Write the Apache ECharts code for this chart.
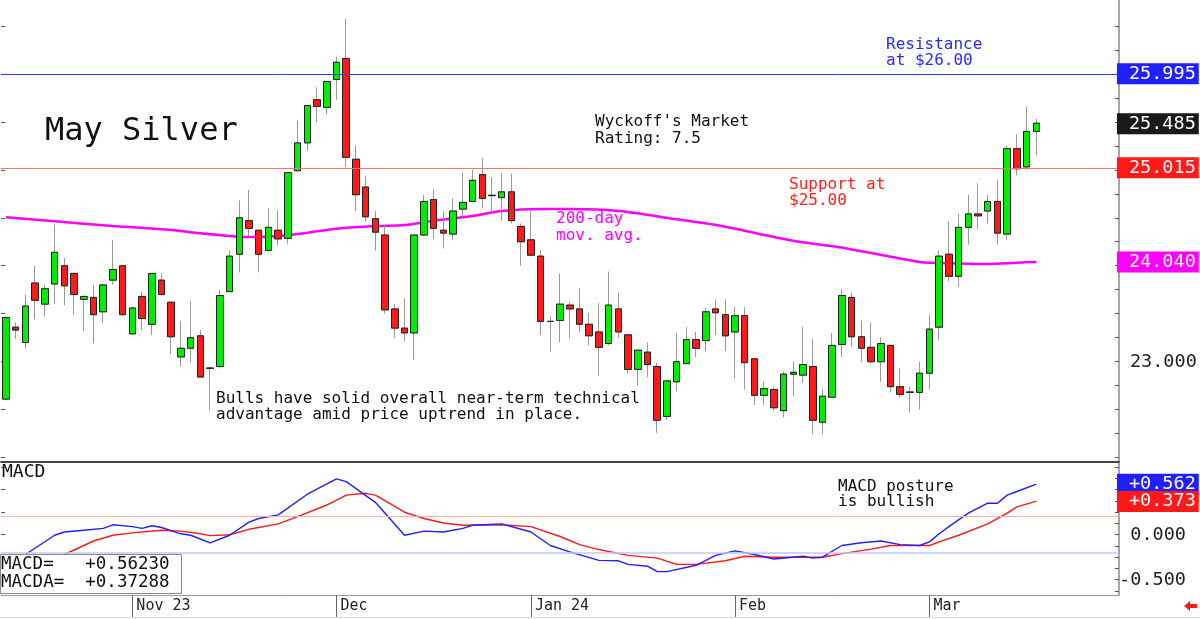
<!DOCTYPE html>
<html>
<head>
<meta charset="utf-8">
<style>
  html, body { margin: 0; padding: 0; background: #fff; }
  #chart { width: 1200px; height: 619px; }
</style>
<script src="https://cdn.jsdelivr.net/npm/echarts@6/dist/echarts.min.js"></script>
</head>
<body>
<div id="chart"></div>
<script>
// trading days, Oct 13 2023 .. Mar 18 2024
const dates = [
  '2023-10-13','2023-10-16','2023-10-17','2023-10-18','2023-10-19','2023-10-20','2023-10-23','2023-10-24','2023-10-25','2023-10-26','2023-10-27','2023-10-30','2023-10-31',
  '2023-11-01','2023-11-02','2023-11-03','2023-11-06','2023-11-07','2023-11-08','2023-11-09','2023-11-10','2023-11-13','2023-11-14','2023-11-15','2023-11-16','2023-11-17','2023-11-20','2023-11-21','2023-11-22','2023-11-24','2023-11-27','2023-11-28','2023-11-29','2023-11-30',
  '2023-12-01','2023-12-04','2023-12-05','2023-12-06','2023-12-07','2023-12-08','2023-12-11','2023-12-12','2023-12-13','2023-12-14','2023-12-15','2023-12-18','2023-12-19','2023-12-20','2023-12-21','2023-12-22','2023-12-26','2023-12-27','2023-12-28','2023-12-29',
  '2024-01-02','2024-01-03','2024-01-04','2024-01-05','2024-01-08','2024-01-09','2024-01-10','2024-01-11','2024-01-12','2024-01-16','2024-01-17','2024-01-18','2024-01-19','2024-01-22','2024-01-23','2024-01-24','2024-01-25','2024-01-26','2024-01-29','2024-01-30','2024-01-31',
  '2024-02-01','2024-02-02','2024-02-05','2024-02-06','2024-02-07','2024-02-08','2024-02-09','2024-02-12','2024-02-13','2024-02-14','2024-02-15','2024-02-16','2024-02-20','2024-02-21','2024-02-22','2024-02-23','2024-02-26','2024-02-27','2024-02-28','2024-02-29',
  '2024-03-01','2024-03-04','2024-03-05','2024-03-06','2024-03-07','2024-03-08','2024-03-11','2024-03-12','2024-03-13','2024-03-14','2024-03-15','2024-03-18'
];

const opens = [
  22.61,23.36,23.20,23.82,23.60,23.81,24.00,23.92,23.65,23.67,23.52,23.85,24.00,
  23.29,23.68,23.39,23.85,23.62,23.05,23.14,23.27,22.93,22.95,23.73,24.12,24.47,24.37,24.16,24.37,24.285,24.99,25.28,25.73,25.65,
  25.94,26.16,25.11,24.82,24.49,24.32,23.55,23.35,23.30,24.32,24.69,24.37,24.33,24.59,24.67,24.95,24.73,24.71,24.77,24.41,
  24.27,24.10,23.42,23.43,23.59,23.55,23.39,23.31,23.19,23.55,23.28,22.92,23.10,22.95,22.43,22.79,22.98,23.23,23.22,23.55,23.49,
  23.31,23.48,23.03,22.65,22.71,22.49,22.87,22.86,22.95,22.37,22.63,23.18,23.67,23.26,23.15,23.00,23.17,22.74,22.68,22.68,
  22.88,23.36,24.12,23.89,24.40,24.54,24.57,24.67,24.33,25.22,25.03,25.40
];
const highs = [
  23.47,23.41,23.70,24.00,23.80,24.43,24.08,23.93,23.69,23.80,23.81,24.27,24.01,
  23.57,23.73,23.92,23.92,23.62,23.42,23.63,23.33,22.95,23.75,24.16,24.68,24.79,24.37,24.60,24.58,24.97,25.51,25.67,25.86,25.92,
  26.18,26.57,25.25,24.94,24.57,24.42,23.60,23.66,24.32,24.74,24.80,24.57,24.70,24.97,25.00,25.12,24.92,24.96,24.96,24.44,
  24.57,24.16,23.47,23.92,23.62,23.77,23.51,23.61,23.94,23.72,23.28,23.12,23.20,22.99,22.80,23.30,23.36,23.31,23.56,23.65,23.65,
  23.57,23.57,23.03,22.79,22.74,22.90,23.00,23.36,23.24,22.72,23.30,23.76,23.72,23.43,23.41,23.25,23.17,22.93,22.74,23.00,
  23.49,24.16,24.46,24.54,24.74,24.86,24.74,24.89,25.25,25.37,25.66,25.53
];
const lows = [
  22.60,23.24,23.14,23.44,23.47,23.60,23.59,23.49,23.32,23.19,23.40,23.80,23.48,
  23.28,23.33,23.28,23.69,23.08,22.95,22.99,22.84,22.50,22.93,23.73,23.93,24.31,23.93,24.16,24.21,24.23,24.99,25.20,25.50,25.58,
  25.73,25.03,24.57,24.46,24.16,23.50,23.25,23.21,23.02,24.31,24.28,24.18,24.27,24.51,24.67,24.60,24.56,24.47,24.44,24.00,
  24.10,23.28,23.10,23.20,23.25,23.31,23.17,22.85,23.17,23.25,22.88,22.75,22.84,22.26,22.39,22.69,22.98,23.05,23.11,23.28,23.11,
  22.83,22.71,22.55,22.55,22.49,22.42,22.64,22.78,22.25,22.25,22.63,23.05,23.16,23.00,22.98,22.79,22.68,22.63,22.47,22.50,
  22.71,23.23,23.84,23.78,24.22,24.38,24.44,24.22,24.27,24.94,25.00,25.15
];
const closes = [
  23.46,23.33,23.58,23.64,23.76,24.14,23.79,23.70,23.68,23.49,23.80,23.96,23.49,
  23.56,23.45,23.92,23.70,23.26,23.14,23.25,22.84,22.935,23.69,24.10,24.50,24.39,24.12,24.40,24.28,24.97,25.28,25.67,25.66,25.92,
  26.12,25.13,24.74,24.51,24.35,23.54,23.35,23.30,24.32,24.67,24.39,24.34,24.57,24.66,24.89,24.70,24.735,24.77,24.47,24.25,
  24.11,23.42,23.42,23.60,23.55,23.39,23.27,23.15,23.59,23.31,22.92,23.12,22.97,22.39,22.80,23.00,23.23,23.14,23.52,23.51,23.27,
  23.48,22.99,22.65,22.72,22.52,22.87,22.89,22.97,22.39,22.64,23.17,23.69,23.26,23.14,23.00,23.19,22.74,22.66,22.685,22.88,
  23.34,24.10,23.89,24.40,24.54,24.52,24.67,24.34,25.22,25.01,25.40,25.485
];

// 200-day moving average, read at these bar indices
const maIdx = [0,5,11,17,20,23,25,28,31,34,38,41,44,48,51,55,58,63,69,74,79,82,86,87,91,94,97,101,104,106];
const maVals = [24.505,24.463,24.415,24.372,24.338,24.31,24.30,24.31,24.344,24.386,24.414,24.424,24.47,24.518,24.57,24.59,24.59,24.57,24.484,24.407,24.30,24.244,24.19,24.17,24.094,24.04,24.025,24.018,24.032,24.04];

// MACD (blue) and MACDA signal (red)
const macdIdx = [0,2,5,6,8,10,11,13,14,15,16,18,19,21,23,25,26,28,31,34,35,38,41,43,45,47,48,51,54,56,58,61,63,64,66,67,68,71,73,75,77,79,82,83,84,86,88,90,92,94,95,96,97,99,101,102,103,104,106];
const macdVals = [-0.41,-0.22,-0.006,0.03,0.05,0.07,0.11,0.09,0.07,0.10,0.08,0.01,-0.006,-0.09,-0.006,0.14,0.18,0.22,0.45,0.62,0.59,0.36,-0.006,0.04,0.03,0.07,0.105,0.12,0.03,-0.12,-0.19,-0.285,-0.29,-0.33,-0.35,-0.41,-0.41,-0.34,-0.23,-0.18,-0.22,-0.27,-0.24,-0.26,-0.25,-0.12,-0.09,-0.07,-0.11,-0.12,-0.08,0.01,0.09,0.24,0.35,0.35,0.44,0.48,0.5623];
const signalIdx = [0,6,8,9,11,13,16,18,20,21,23,25,28,30,33,35,37,38,41,43,45,47,51,54,57,59,61,64,67,69,71,74,76,79,82,84,86,89,91,95,96,98,101,103,104,106];
const signalVals = [-0.51,-0.22,-0.12,-0.07,-0.006,0.02,0.05,0.04,0.01,-0.01,0.00,0.06,0.12,0.20,0.33,0.44,0.46,0.44,0.25,0.18,0.13,0.105,0.11,0.09,-0.02,-0.11,-0.165,-0.23,-0.26,-0.33,-0.33,-0.29,-0.24,-0.25,-0.25,-0.25,-0.21,-0.16,-0.12,-0.12,-0.08,-0.006,0.12,0.24,0.31,0.37288];

const monthLabels = { '2023-11-01': 'Nov 23', '2023-12-01': 'Dec', '2024-01-02': 'Jan 24', '2024-02-01': 'Feb', '2024-03-01': 'Mar' };
const resistance = 25.995;
const support = 25.015;
const macdLevels = [0.2, -0.2];

const priceTicks = [22,22.25,22.5,22.75,23,23.25,23.5,23.75,24,24.25,24.5,24.75,25,25.25,25.5,25.75,26,26.25,26.5];
const priceTicksLeft = [22,22.5,23,23.5,24,24.5,25,25.5,26,26.5];
const priceLabels = [23];
const macdTicks = [-0.625,-0.5,-0.375,-0.25,-0.125,0,0.125,0.25,0.375,0.5,0.625,0.75];
const macdTicksLeft = [-0.5,-0.25,0,0.25,0.5,0.75];
const macdLabels = [0, -0.5];

const MONO = '"DejaVu Sans Mono", monospace';
const padCount = 8;
const xData = dates.concat(Array.from({ length: padCount }, (_, i) => 'pad' + i));
const last = dates.length - 1;

const candleData = dates.map((d, i) => [opens[i], closes[i], lows[i], highs[i]]);
const bodyData = dates.map((d, i) => [opens[i], closes[i], Math.min(opens[i], closes[i]), Math.max(opens[i], closes[i])]);
const maData = maIdx.map((x, i) => [x, maVals[i]]);
const macdData = macdIdx.map((x, i) => [x, macdVals[i]]);
const signalData = signalIdx.map((x, i) => [x, signalVals[i]]);

function tagLine(value, bg, text, lineColor) {
  return {
    yAxis: value,
    lineStyle: lineColor ? { color: lineColor, width: 1, type: 'solid' } : { width: 0, color: 'rgba(0,0,0,0)' },
    label: {
      show: true, position: 'end', distance: -2, formatter: text,
      backgroundColor: bg, color: '#fff', fontSize: 18.5, fontFamily: MONO,
      padding: [2, 3, 0, 12]
    }
  };
}

function txt(x, y, text, color, size) {
  return {
    type: 'text', x: x, y: y, z: 100,
    style: { text: text, fill: color || '#111', font: (size || 16) + 'px ' + MONO, textVerticalAlign: 'middle' }
  };
}

const isMonth = (i, v) => monthLabels[v] !== undefined;

const chart = echarts.init(document.getElementById('chart'));
chart.setOption({
  animation: false,
  backgroundColor: '#fff',
  grid: [
    { left: 1.14, top: 0, width: 1117.8, height: 462 },
    { left: 1.14, top: 462, width: 1117.8, height: 133 }
  ],
  xAxis: [
    {
      type: 'category', gridIndex: 0, data: xData, boundaryGap: true,
      axisLine: { show: true, onZero: false, lineStyle: { color: '#444', width: 2 } },
      axisTick: { show: false }, axisLabel: { show: false }, splitLine: { show: false }
    },
    {
      type: 'category', gridIndex: 1, data: xData, boundaryGap: true,
      axisLine: { show: true, onZero: false, lineStyle: { color: '#999', width: 1 } },
      axisTick: { show: true, interval: isMonth, alignWithLabel: true, length: 22, lineStyle: { color: '#666' } },
      axisLabel: {
        interval: isMonth, formatter: v => monthLabels[v] || '',
        align: 'left', padding: [0, 0, 0, 4], margin: 4,
        fontSize: 15, fontFamily: MONO, color: '#222'
      },
      splitLine: { show: false }
    }
  ],
  yAxis: [
    {
      type: 'value', gridIndex: 0, position: 'right', min: 21.955, max: 26.769, scale: true,
      axisLine: { show: true, lineStyle: { color: '#888', width: 1.5 } },
      axisTick: { show: true, inside: true, length: 4, customValues: priceTicks, lineStyle: { color: '#555' } },
      axisLabel: { customValues: priceLabels, formatter: v => v.toFixed(3), margin: 11, fontSize: 18.5, fontFamily: MONO, color: '#222' },
      splitLine: { show: false }
    },
    {
      type: 'value', gridIndex: 0, position: 'left', min: 21.955, max: 26.769, scale: true,
      axisLine: { show: false },
      axisTick: { show: true, inside: true, length: 4, customValues: priceTicksLeft, lineStyle: { color: '#555' } },
      axisLabel: { show: false }, splitLine: { show: false }
    },
    {
      type: 'value', gridIndex: 1, position: 'right', min: -0.67, max: 0.808,
      axisLine: { show: true, lineStyle: { color: '#888', width: 1.5 } },
      axisTick: { show: true, inside: true, length: 4, customValues: macdTicks, lineStyle: { color: '#555' } },
      axisLabel: { customValues: macdLabels, formatter: v => v.toFixed(3), align: 'right', margin: 67, fontSize: 18.5, fontFamily: MONO, color: '#222' },
      splitLine: { show: false }
    },
    {
      type: 'value', gridIndex: 1, position: 'left', min: -0.67, max: 0.808,
      axisLine: { show: false },
      axisTick: { show: true, inside: true, length: 4, customValues: macdTicksLeft, lineStyle: { color: '#555' } },
      axisLabel: { show: false }, splitLine: { show: false }
    }
  ],
  series: [
    {
      name: '200-day', type: 'line', xAxisIndex: 0, yAxisIndex: 0, data: maData,
      showSymbol: false, smooth: 0.3, lineStyle: { color: '#ff00ff', width: 2.5 }, z: 1,
      markLine: {
        silent: true, symbol: ['none', 'none'],
        data: [tagLine(maVals[maVals.length - 1], '#ff00ff', maVals[maVals.length - 1].toFixed(3))]
      }
    },
    {
      name: 'wicks', type: 'candlestick', xAxisIndex: 0, yAxisIndex: 0, data: candleData, barWidth: 7, z: 2,
      itemStyle: { color: '#00ee00', color0: '#ff1a1a', borderColor: '#999', borderColor0: '#999', borderWidth: 1 }
    },
    {
      name: 'bodies', type: 'candlestick', xAxisIndex: 0, yAxisIndex: 0, data: bodyData, barWidth: 7, z: 3,
      itemStyle: { color: '#00ee00', color0: '#ff1a1a', borderColor: '#222', borderColor0: '#222', borderWidth: 1 },
      markLine: {
        silent: true, symbol: ['none', 'none'],
        data: [
          tagLine(resistance, '#2020ff', resistance.toFixed(3), '#3a3aff'),
          tagLine(support, '#ff1a1a', support.toFixed(3), '#ff7070'),
          tagLine(closes[last], '#1a1a1a', closes[last].toFixed(3))
        ]
      }
    },
    {
      name: 'MACD', type: 'line', xAxisIndex: 1, yAxisIndex: 2, data: macdData,
      showSymbol: false, lineStyle: { color: '#2020ff', width: 1.4 }, z: 3,
      markLine: {
        silent: true, symbol: ['none', 'none'],
        data: [
          { yAxis: macdLevels[0], lineStyle: { color: '#ffb0b0', width: 1, type: 'solid' }, label: { show: false } },
          { yAxis: macdLevels[1], lineStyle: { color: '#c4c4ff', width: 1.5, type: 'solid' }, label: { show: false } },
          tagLine(macdVals[macdVals.length - 1], '#2020ff', '+' + macdVals[macdVals.length - 1].toFixed(3))
        ]
      }
    },
    {
      name: 'MACDA', type: 'line', xAxisIndex: 1, yAxisIndex: 2, data: signalData,
      showSymbol: false, lineStyle: { color: '#ff1a1a', width: 1.4 }, z: 2,
      markLine: {
        silent: true, symbol: ['none', 'none'],
        data: [tagLine(signalVals[signalVals.length - 1], '#ff1a1a', '+' + signalVals[signalVals.length - 1].toFixed(3))]
      }
    }
  ],
  graphic: [
    txt(45, 132, 'May Silver', '#111', 32),
    txt(595, 122, "Wyckoff's Market"),
    txt(595, 139, 'Rating: 7.5'),
    txt(886, 45, 'Resistance', '#2a2aff'),
    txt(886, 61, 'at $26.00', '#2a2aff'),
    txt(789, 185, 'Support at', '#ff2020'),
    txt(789, 201, '$25.00', '#ff2020'),
    txt(556, 219, '200-day', '#ff00ff'),
    txt(556, 236, 'mov. avg.', '#ff00ff'),
    txt(216, 399, 'Bulls have solid overall near-term technical'),
    txt(216, 415, 'advantage amid price uptrend in place.'),
    txt(838, 487, 'MACD posture'),
    txt(838, 502, 'is bullish'),
    txt(2, 472, 'MACD', '#111', 18),
    {
      type: 'rect', z: 99, shape: { x: 0.5, y: 554.5, width: 181, height: 39 },
      style: { fill: '#fff', stroke: '#888', lineWidth: 1 }
    },
    txt(1, 564, 'MACD=   +' + macdVals[macdVals.length - 1].toFixed(5), '#111', 17.5),
    txt(1, 582, 'MACDA=  +' + signalVals[signalVals.length - 1].toFixed(5), '#111', 17.5),
    {
      type: 'line', z: 99, shape: { x1: 0, y1: 617.5, x2: 1200, y2: 617.5 },
      style: { stroke: '#ddd', lineWidth: 1 }
    },
    {
      type: 'polygon', z: 100,
      shape: { points: [[1184, 606], [1190, 601], [1190, 604], [1197, 604], [1197, 608], [1190, 608], [1190, 611]] },
      style: { fill: '#ff1a1a' }
    }
  ]
});
</script>
</body>
</html>
